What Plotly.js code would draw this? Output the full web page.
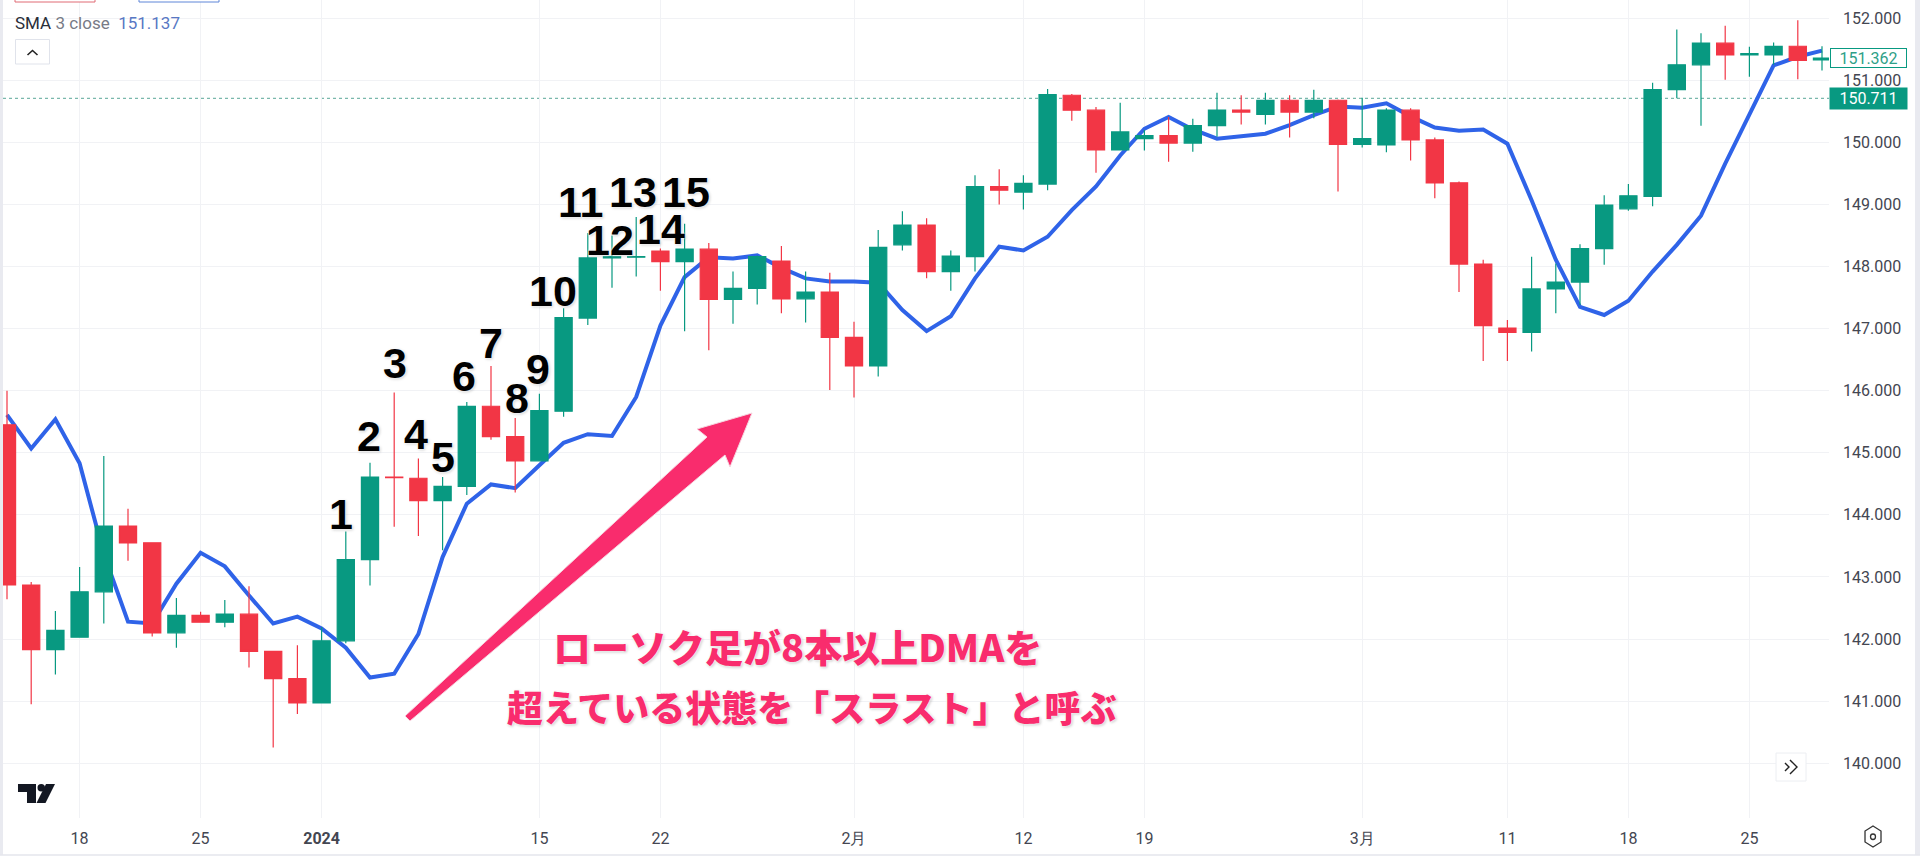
<!DOCTYPE html>
<html>
<head>
<meta charset="utf-8">
<script src="https://cdn.plot.ly/plotly-3.0.1.min.js"></script>
<style>html,body{margin:0;padding:0;background:#fff}#c{width:1920px;height:862px}</style>
</head>
<body>
<div id="c"></div>
<script>
const sessionIndex = [-3,-2,-1,0,1,2,3,4,5,6,7,8,9,10,11,12,13,14,15,16,17,18,19,20,21,22,23,24,25,26,27,28,29,30,31,32,33,34,35,36,37,38,39,40,41,42,43,44,45,46,47,48,49,50,51,52,53,54,55,56,57,58,59,60,61,62,63,64,65,66,67,68,69,70,71,72];
const opens = [145.45,142.87,141.83,142.03,142.76,143.82,143.55,142.10,142.38,142.27,142.40,141.80,141.36,140.97,141.97,143.28,144.61,144.59,144.23,144.46,145.75,145.26,144.87,145.67,147.17,148.14,148.15,148.25,148.08,148.28,147.47,147.65,148.09,147.48,147.59,146.86,146.40,148.35,148.67,147.92,148.16,149.29,149.20,149.33,150.76,150.52,149.88,150.06,150.11,149.99,150.27,150.52,150.45,150.68,150.49,150.68,149.97,149.96,150.52,150.04,149.35,148.04,147.01,146.94,147.64,147.75,148.29,148.93,149.13,150.85,151.25,151.60,151.41,151.41,151.55,151.33];
const highs = [146.0,142.92,142.45,143.16,144.95,144.10,143.55,142.66,142.44,142.63,142.85,141.80,141.90,142.19,143.73,144.84,145.97,144.91,144.61,145.82,146.40,145.56,145.95,147.33,148.54,148.5,148.80,148.29,148.69,148.38,147.92,148.18,148.33,147.92,147.90,147.11,148.59,148.89,148.78,148.26,149.47,149.57,149.47,150.86,150.78,150.57,150.64,150.2,150.41,150.38,150.8,150.76,150.8,150.76,150.85,150.69,150.72,150.55,150.55,150.08,149.37,148.11,147.14,148.16,148.05,148.36,149.15,149.33,150.96,151.82,151.76,151.88,151.54,151.61,151.97,151.55];
const lows = [142.64,140.95,141.43,142.03,142.25,143.26,142.04,141.86,142.27,142.19,141.54,140.25,140.79,140.97,141.93,142.86,143.81,143.66,143.43,144.32,145.21,144.36,144.87,145.58,147.06,147.66,147.84,147.61,146.96,146.65,147.08,147.39,147.25,147.10,146.01,145.89,146.23,148.26,147.81,147.61,147.92,149.0,148.92,149.23,150.35,149.51,149.88,149.87,149.69,149.85,150.09,150.29,150.29,150.08,150.39,149.21,149.92,149.84,149.71,149.10,147.59,146.48,146.48,146.63,147.25,147.38,148.03,148.90,148.97,150.71,150.27,151.01,151.06,151.25,151.02,151.16];
const closes = [142.87,141.83,142.14,142.76,143.82,143.55,142.10,142.38,142.27,142.40,141.80,141.36,140.97,141.97,143.28,144.61,144.60,144.23,144.46,145.75,145.26,144.87,145.68,147.18,148.14,148.16,148.16,148.08,148.28,147.47,147.65,148.16,147.48,147.59,146.86,146.40,148.31,148.67,147.92,148.17,149.29,149.23,149.34,150.77,150.52,149.88,150.17,150.11,149.99,150.27,150.52,150.49,150.68,150.49,150.68,149.97,150.06,150.52,150.04,149.35,148.04,147.05,146.94,147.64,147.75,148.29,148.99,149.14,150.85,151.25,151.60,151.41,151.43,151.55,151.32,151.36];
const sma3 = [145.61,145.07,145.54,144.83,143.37,142.28,142.25,142.89,143.39,143.17,142.70,142.25,142.36,142.17,141.86,141.38,141.44,142.08,143.32,144.18,144.49,144.43,144.80,145.16,145.30,145.27,145.90,147.05,147.83,148.15,148.13,148.18,147.98,147.81,147.76,147.76,147.74,147.30,146.96,147.20,147.81,148.32,148.26,148.48,148.91,149.29,149.79,150.22,150.41,150.21,150.06,150.10,150.14,150.28,150.44,150.58,150.56,150.63,150.42,150.24,150.19,150.21,149.98,149.07,148.11,147.35,147.22,147.45,147.92,148.35,148.82,149.66,150.44,151.24,151.38,151.48];
const xTickVals = [0,5,10,19,24,32,39,44,53,59,64,69];
const xTickText = ['18','25','<b>2024</b>','15','22','2月','12','19','3月','11','18','25'];
const yTickVals = [140,141,142,143,144,145,146,147,148,149,150,151,152];
const countLabels = ['1','2','3','4','5','6','7','8','9','10','11','12','13','14','15'];
const noteLines = ['ローソク足が8本以上DMAを','超えている状態を「スラスト」と呼ぶ'];
const smaName = 'SMA', smaParams = '3 close', smaValue = '151.137';
const lastPrice = '151.362', refPrice = '150.711', refPriceValue = 150.711;

const W=1920,H=862,L=3,R=1829,T=0,B=818;
const fx=p=>(p-L)/(R-L), fy=p=>1-(p-T)/(B-T);
const pathOf=(pts,close=true)=>pts.map((q,i)=>(i?'L':'M')+fx(q[0]).toFixed(5)+' '+fy(q[1]).toFixed(5)).join(' ')+(close?' Z':'');
const xRange=[(L-79.6)/24.2,(R-79.6)/24.2];
const yRange=[152-(B-18.3)/62.07,152+18.3/62.07];
const GREEN='#089981',RED='#F23645',PINK='#F92C6D';

const countPos=[[341,514],[369,436],[395,363],[416,434],[443,457],[464,376],[491,343],[517,398],[538,369],[553,291],[580,202],[610,240],[633,192],[661,229],[686,192]];
const halo='0 0 2px #fff,0 0 3px #fff,1px 1px 3px rgba(0,0,0,.25)';
const annotations=countLabels.map((t,i)=>({xref:'paper',yref:'paper',x:fx(countPos[i][0]),y:fy(countPos[i][1]),xanchor:'center',yanchor:'middle',showarrow:false,text:t,
  font:{family:'"Liberation Sans",Arial,sans-serif',size:43,color:'#000',weight:700,shadow:halo}}));
const pinkHalo='0 0 2px #fff,0 0 3px #fff,1px 1px 3px rgba(0,0,0,.3)';
[[797,645.5,38],[811,706,36]].forEach((p,i)=>annotations.push({xref:'paper',yref:'paper',x:fx(p[0]),y:fy(p[1]),xanchor:'center',yanchor:'middle',showarrow:false,text:noteLines[i],
  font:{family:'"Noto Sans CJK JP",sans-serif',size:p[2],color:PINK,weight:900,shadow:pinkHalo}}));
annotations.push({xref:'paper',yref:'paper',x:fx(13),y:fy(23),xanchor:'left',yanchor:'middle',showarrow:false,
  text:`<span style="color:#2a2e39">${smaName}</span> <span style="color:#787b86">${smaParams}</span>  <span style="color:#5878c4">${smaValue}</span>`,
  font:{family:'Roboto,sans-serif',size:17}});
annotations.push({xref:'paper',yref:'paper',x:fx(1868.5),y:fy(58),xanchor:'center',yanchor:'middle',showarrow:false,text:lastPrice,width:75,height:18,
  bgcolor:'#fff',bordercolor:GREEN,borderwidth:1,borderpad:0,font:{family:'Roboto,sans-serif',size:16,color:'#2f9f88'}});
annotations.push({xref:'paper',yref:'paper',x:fx(1868.5),y:fy(98.5),xanchor:'center',yanchor:'middle',showarrow:false,text:refPrice,width:77,height:21,
  bgcolor:GREEN,borderpad:0,font:{family:'Roboto,sans-serif',size:16,color:'#fff'}});

const paper=(extra)=>Object.assign({xref:'paper',yref:'paper',layer:'above'},extra);
const shapes=[
  {type:'line',xref:'paper',yref:'y',x0:0,x1:1,y0:refPriceValue,y1:refPriceValue,line:{color:'#2f8f7c',width:0.8,dash:'dot'},layer:'below'},
  // arrow
  paper({type:'path',path:pathOf([[405,716],[410,721],[725,455],[730,467],[752,413],[697,429],[707,437]]),fillcolor:PINK,line:{color:'#f6d6e0',width:1}}),
  // clipped top buttons
  paper({type:'rect',x0:fx(15),x1:fx(95),y0:fy(-6),y1:fy(2),line:{color:'#e06a74',width:1},fillcolor:'#fff'}),
  paper({type:'rect',x0:fx(139),x1:fx(219),y0:fy(-6),y1:fy(2),line:{color:'#5f86d8',width:1},fillcolor:'#fff'}),
  // collapse button
  paper({type:'rect',x0:fx(15.5),x1:fx(49.5),y0:fy(39.5),y1:fy(64),line:{color:'#e0e3eb',width:1},fillcolor:'#fff'}),
  paper({type:'path',path:pathOf([[27.5,55],[32.5,50.5],[37.5,55]],false),line:{color:'#222',width:1.6}}),
  // TradingView mark
  paper({type:'path',path:pathOf([[18,784],[36,784],[36,803],[27,803],[27,792],[18,792]]),fillcolor:'#131722',line:{width:0}}),
  paper({type:'circle',x0:fx(37.5),x1:fx(45),y0:fy(784),y1:fy(791.5),fillcolor:'#131722',line:{width:0}}),
  paper({type:'path',path:pathOf([[55,784],[45.5,803],[36.5,803],[46,784]]),fillcolor:'#131722',line:{width:0}}),
  // scroll button
  paper({type:'rect',x0:fx(1776),x1:fx(1806),y0:fy(753),y1:fy(781),line:{color:'#eceef2',width:1},fillcolor:'#fff'}),
  paper({type:'path',path:pathOf([[1785,763],[1789,767],[1785,771]],false),line:{color:'#222',width:1.4}}),
  paper({type:'path',path:pathOf([[1790,760],[1797,767],[1790,774]],false),line:{color:'#222',width:1.4}}),
  // settings hexagon
  paper({type:'path',path:pathOf([[1873,826],[1881,831],[1881,842],[1873,847],[1865,842],[1865,831]]),line:{color:'#333',width:1.3}}),
  paper({type:'circle',x0:fx(1870.5),x1:fx(1875.5),y0:fy(834),y1:fy(839.5),line:{color:'#333',width:1.3}}),
  // frame strips
  paper({type:'rect',x0:fx(0),x1:fx(3),y0:fy(0),y1:fy(855),fillcolor:'#e9eaf0',line:{width:0}}),
  paper({type:'rect',x0:fx(1915),x1:fx(1920),y0:fy(0),y1:fy(855),fillcolor:'#e9eaf0',line:{width:0}}),
  paper({type:'line',x0:fx(0),x1:fx(1920),y0:fy(855),y1:fy(855),line:{color:'#e4e6ec',width:1.5}})
];

const traces=[
 {type:'scatter',mode:'lines',x:sessionIndex,y:sma3,xaxis:'x',yaxis:'y',line:{color:'#2f63e8',width:4},hoverinfo:'skip',showlegend:false},
 {type:'candlestick',x:sessionIndex,open:opens,high:highs,low:lows,close:closes,xaxis:'x2',yaxis:'y2',whiskerwidth:0,showlegend:false,
  increasing:{line:{color:GREEN,width:1.2},fillcolor:GREEN},decreasing:{line:{color:RED,width:1.2},fillcolor:RED}}
];
const layout={
 width:W,height:H,autosize:false,paper_bgcolor:'#fff',plot_bgcolor:'#fff',showlegend:false,boxgap:0.29,boxgroupgap:0,
 margin:{l:L,r:W-R,t:T,b:H-B,pad:0},
 font:{family:'Roboto,sans-serif',size:16,color:'#434651'},
 xaxis:{type:'linear',range:xRange,tickmode:'array',tickvals:xTickVals,ticktext:xTickText,showgrid:true,gridcolor:'#f1f2f5',gridwidth:1,zeroline:false,showline:false,ticks:'',ticklabelstandoff:9,tickfont:{size:16,color:'#434651'},rangeslider:{visible:false}},
 yaxis:{type:'linear',side:'right',range:yRange,tickmode:'array',tickvals:yTickVals,tickformat:'.3f',showgrid:true,gridcolor:'#f1f2f5',gridwidth:1,zeroline:false,showline:false,ticks:'',ticklabelstandoff:13,tickfont:{size:16,color:'#434651'}},
 xaxis2:{type:'linear',overlaying:'x',range:xRange,visible:false,rangeslider:{visible:false}},
 yaxis2:{type:'linear',overlaying:'y',range:yRange,visible:false},
 shapes,annotations
};
Plotly.newPlot('c',traces,layout,{displayModeBar:false,staticPlot:true});
</script>
</body>
</html>
